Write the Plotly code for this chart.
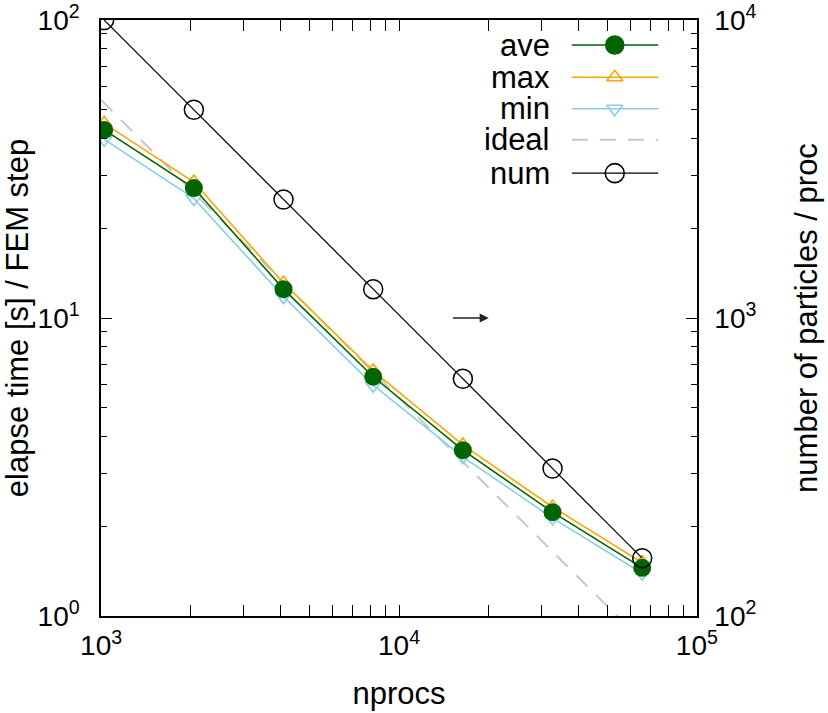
import numpy as np
import plotly.graph_objects as go

# ---- data ----
nprocs = [1024, 2048, 4096, 8192, 16384, 32768, 65536]
t_ave = [42.8, 27.3, 12.5, 6.35, 3.6, 2.23, 1.45]
t_max = [45.0, 28.6, 13.1, 6.65, 3.75, 2.32, 1.51]
t_min = [39.8, 25.2, 11.8, 5.95, 3.42, 2.13, 1.39]
ideal_x = [1000, 100000]
ideal_y = [53.9, 0.539]
num = [10000, 5000, 2500, 1250, 625, 312.5, 156.25]

legend_names = ["ave", "max", "min", "ideal", "num"]

FONT = "Liberation Sans, Arial, sans-serif"
GREEN = "#006400"
ORANGE = "#FFA500"
SKY = "#87CEEB"
GRAY = "#C8C8C8"

fig = go.Figure()

fig.add_trace(go.Scatter(x=ideal_x, y=ideal_y, mode="lines",
                         line=dict(color=GRAY, width=2, dash="16px,12px"),
                         showlegend=False, hoverinfo="skip"))
fig.add_trace(go.Scatter(x=nprocs, y=t_max, mode="lines+markers",
                         line=dict(color=ORANGE, width=1.6),
                         marker=dict(symbol="triangle-up-open", size=14, color=ORANGE,
                                     line=dict(width=1.6, color=ORANGE)),
                         showlegend=False))
fig.add_trace(go.Scatter(x=nprocs, y=t_min, mode="lines+markers",
                         line=dict(color=SKY, width=1.6),
                         marker=dict(symbol="triangle-down-open", size=14, color=SKY,
                                     line=dict(width=1.6, color=SKY)),
                         showlegend=False))
fig.add_trace(go.Scatter(x=nprocs, y=t_ave, mode="lines+markers",
                         line=dict(color=GREEN, width=1.6),
                         marker=dict(symbol="circle", size=18, color=GREEN),
                         showlegend=False))
fig.add_trace(go.Scatter(x=nprocs, y=num, mode="lines+markers", yaxis="y2",
                         line=dict(color="black", width=1.2),
                         marker=dict(symbol="circle-open", size=19, color="black",
                                     line=dict(width=1.5, color="black")),
                         showlegend=False))

# ---- manual legend (text left, sample right, like gnuplot) ----
row_y = [0.958, 0.904, 0.851, 0.799, 0.743]
lx0, lx1, lxm, ltx = 0.790, 0.935, 0.862, 0.757
styles = [
    dict(color=GREEN, dash="solid", width=1.6, sym="circle", size=18, mcol=GREEN),
    dict(color=ORANGE, dash="solid", width=1.6, sym="triangle-up-open", size=14, mcol=ORANGE),
    dict(color=SKY, dash="solid", width=1.6, sym="triangle-down-open", size=14, mcol=SKY),
    dict(color=GRAY, dash="16px,12px", width=2, sym=None, size=0, mcol=GRAY),
    dict(color="black", dash="solid", width=1.2, sym="circle-open", size=19, mcol="black"),
]
for name, yy, st in zip(legend_names, row_y, styles):
    fig.add_trace(go.Scatter(x=[lx0, lx1], y=[yy, yy], mode="lines", xaxis="x3", yaxis="y3",
                             line=dict(color=st["color"], width=st["width"], dash=st["dash"]),
                             showlegend=False, hoverinfo="skip"))
    if st["sym"]:
        fig.add_trace(go.Scatter(x=[lxm], y=[yy], mode="markers", xaxis="x3", yaxis="y3",
                                 marker=dict(symbol=st["sym"], size=st["size"], color=st["mcol"],
                                             line=dict(width=1.6, color=st["mcol"])),
                                 showlegend=False, hoverinfo="skip"))
    fig.add_annotation(x=ltx, y=yy, xref="paper", yref="paper", text=name,
                       showarrow=False, xanchor="right", yanchor="middle",
                       font=dict(family=FONT, size=31, color="black"))

# arrow indicating num uses right axis
fig.add_annotation(x=np.log10(2.0e4), y=1, ax=np.log10(1.5e4), ay=1,
                   xref="x", yref="y", axref="x", ayref="y",
                   showarrow=True, arrowhead=2, arrowsize=1.2, arrowwidth=1.5,
                   arrowcolor="#222", text="")

def minors(lo, hi):
    out = []
    for d in range(lo, hi):
        for m in range(2, 10):
            out.append(m * 10 ** d)
    return out

EPS = 0.0004
tickfont = dict(family=FONT, size=28, color="black")
axis_common = dict(type="log", showgrid=False, zeroline=False, showline=True,
                   linecolor="black", linewidth=1.5, ticks="inside", ticklen=11,
                   tickwidth=1.2, tickcolor="black", tickfont=tickfont, automargin=False,
                   ticklabeloverflow="allow")

fig.update_layout(
    width=828, height=713,
    margin=dict(l=101, r=131, t=20, b=97, autoexpand=False),
    paper_bgcolor="white", plot_bgcolor="white",
    font=dict(family=FONT, size=30, color="black"),
    xaxis=dict(**axis_common, range=[3 - EPS, 5 + EPS], mirror="allticks",
               tickmode="array", tickvals=[1e3, 1e4, 1e5],
               ticktext=["10<sup>3</sup>", "10<sup>4</sup>", "10<sup>5</sup>"],
               ticklabelstandoff=4,
               minor=dict(ticks="inside", ticklen=6, tickwidth=1.2, tickcolor="black",
                          tickmode="array", tickvals=minors(3, 5)),
               title=dict(text="nprocs", font=dict(family=FONT, size=31), standoff=22)),
    yaxis=dict(**axis_common, range=[0 - EPS, 2 + EPS], mirror=True,
               tickmode="array", tickvals=[1, 10, 100],
               ticktext=["10<sup>0</sup>", "10<sup>1</sup>", "10<sup>2</sup>"],
               ticklabelstandoff=14,
               minor=dict(ticks="inside", ticklen=6, tickwidth=1.2, tickcolor="black",
                          tickmode="array", tickvals=minors(0, 2)),
               title=dict(text="elapse time [s] / FEM step",
                          font=dict(family=FONT, size=31), standoff=4)),
    yaxis2=dict(**axis_common, range=[2 - EPS, 4 + EPS], overlaying="y", side="right",
                tickmode="array", tickvals=[1e2, 1e3, 1e4],
                ticktext=["10<sup>2</sup>", "10<sup>3</sup>", "10<sup>4</sup>"],
                ticklabelstandoff=10,
                minor=dict(ticks="inside", ticklen=6, tickwidth=1.2, tickcolor="black",
                           tickmode="array", tickvals=minors(2, 4)),
                title=dict(text="number of particles / proc",
                           font=dict(family=FONT, size=31), standoff=40)),
    xaxis3=dict(range=[0, 1], visible=False, overlaying="x", anchor="y3"),
    yaxis3=dict(range=[0, 1], visible=False, overlaying="y", anchor="x3"),
)

# remove the default 8px page margin so the figure fills the window exactly
fig.write_html("out.html", config={"displayModeBar": False},
               post_script="document.body.style.margin='0';document.body.style.overflow='hidden';")
